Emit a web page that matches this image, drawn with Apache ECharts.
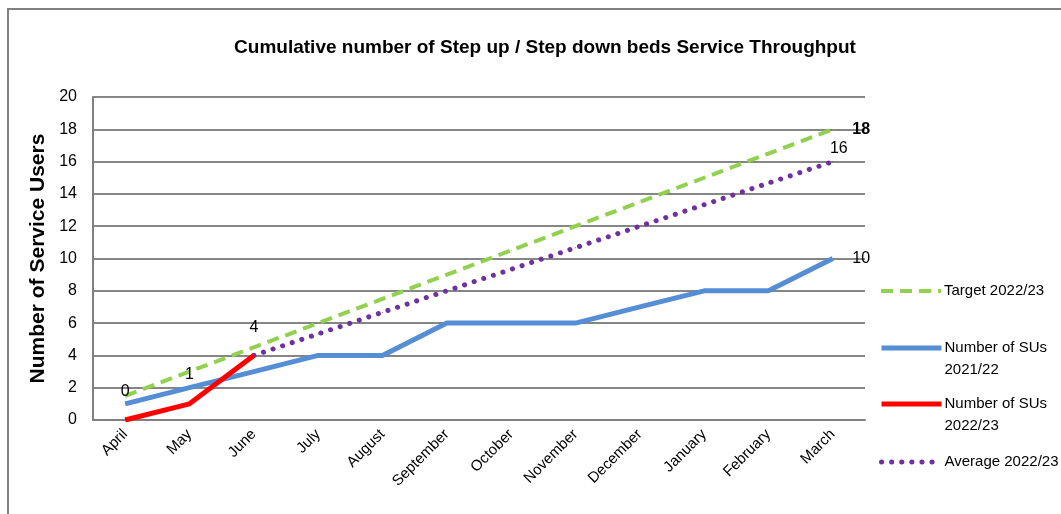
<!DOCTYPE html>
<html><head><meta charset="utf-8">
<script src="https://cdn.jsdelivr.net/npm/echarts@6/dist/echarts.min.js"></script>
<style>html,body{margin:0;padding:0;background:#fff}#c{width:1061px;height:514px}</style>
</head><body><div id="c"></div>
<script>
const categories = ['April','May','June','July','August','September','October','November','December','January','February','March'];
const target2223 = [1.5,3,4.5,6,7.5,9,10.5,12,13.5,15,16.5,18];
const sus2122 = [1,2,3,4,4,6,6,6,7,8,8,10];
const sus2223 = [0,1,4,null,null,null,null,null,null,null,null,null];
const avg2223 = [null,null,4,5.33,6.67,8,9.33,10.67,12,13.33,14.67,16];
const yTicks = [0,2,4,6,8,10,12,14,16,18,20];

const FONT = '"Liberation Sans",Arial,sans-serif';
const chart = echarts.init(document.getElementById('c'));
const lastIdx = categories.length - 1;

function legendFor(name, top, twoLine, lw) {
  return {
    left: 879, top: top, orient: 'vertical', padding: 0,
    data: [name],
    itemWidth: 60, itemHeight: 14, itemGap: 0,
    selectedMode: false,
    itemStyle: { opacity: 0 },
    lineStyle: { width: lw },
    formatter: n => twoLine ? '\n' + n.replace('Number of SUs ', 'Number of SUs\n') : n,
    textStyle: { fontFamily: FONT, fontSize: 15, color: '#000', lineHeight: 22, padding: [0, 0, 0, -2] }
  };
}

chart.setOption({
  animation: false,
  title: {
    text: 'Cumulative number of Step up / Step down beds Service Throughput',
    left: 540, top: 33, textAlign: 'center',
    textStyle: { fontFamily: FONT, fontSize: 19, fontWeight: 'bold', color: '#000' }
  },
  graphic: [{
    type: 'rect', shape: { x: 8, y: 9, width: 1100, height: 600 },
    style: { fill: 'none', stroke: '#808080', lineWidth: 2 }, silent: true
  }],
  legend: [
    legendFor('Target 2022/23', 280, false, 4),
    legendFor('Number of SUs 2021/22', 315, true, 5),
    legendFor('Number of SUs 2022/23', 371, true, 5),
    legendFor('Average 2022/23', 451, false, 5)
  ],
  grid: { left: 93, right: 196, top: 97, bottom: 94 },
  xAxis: {
    type: 'category', data: categories, boundaryGap: true,
    axisLine: { lineStyle: { color: '#808080', width: 2 } },
    axisTick: { show: false },
    axisLabel: { rotate: 45, interval: 0, fontFamily: FONT, fontSize: 15, color: '#000', margin: 12 }
  },
  yAxis: {
    type: 'value', min: 0, max: 20, interval: 2,
    name: 'Number of Service Users', nameLocation: 'middle', nameGap: 42,
    nameTextStyle: { fontFamily: FONT, fontSize: 21, fontWeight: 'bold', color: '#000' },
    axisLine: { show: true, lineStyle: { color: '#808080', width: 2 } },
    axisTick: { show: false },
    splitLine: { lineStyle: { color: '#868686', width: 2 } },
    axisLabel: { fontFamily: FONT, fontSize: 16, color: '#000', margin: 16,
      formatter: v => yTicks.includes(v) ? String(v) : '' }
  },
  series: [
    {
      name: 'Target 2022/23', type: 'line', data: target2223.map((v, i) => i === lastIdx ? {
        value: v, label: { show: true, position: 'right', offset: [14, 0], fontWeight: 'bold' } } : v),
      symbol: 'circle', symbolSize: 1, showSymbol: true, z: 3,
      lineStyle: { color: '#92D050', width: 4, type: [12, 7] },
      itemStyle: { color: '#92D050' },
      label: { show: false, fontFamily: FONT, fontSize: 16, color: '#000' }
    },
    {
      name: 'Number of SUs 2021/22', type: 'line', data: sus2122.map((v, i) => i === lastIdx ? {
        value: v, label: { show: true, position: 'right', offset: [14, 0] } } : v),
      symbol: 'circle', symbolSize: 1, showSymbol: true, z: 2,
      lineStyle: { color: '#558ED5', width: 5 },
      itemStyle: { color: '#558ED5' },
      label: { show: false, fontFamily: FONT, fontSize: 16, color: '#000' }
    },
    {
      name: 'Number of SUs 2022/23', type: 'line',
      data: sus2223.map((v, i) => {
        if (v === null) return v;
        const offs = [[0, -15], [0, -16], [0, -14]];
        return { value: v, label: { show: true, position: 'top', offset: offs[i] } };
      }),
      symbol: 'circle', symbolSize: 1, showSymbol: true, z: 4,
      lineStyle: { color: '#FF0000', width: 5 },
      itemStyle: { color: '#FF0000' },
      label: { show: false, fontFamily: FONT, fontSize: 16, color: '#000' }
    },
    {
      name: 'Average 2022/23', type: 'line', data: avg2223.map((v, i) => i === lastIdx ? {
        value: v, label: { show: true, position: 'top', offset: [6, 0] } } : v),
      symbol: 'circle', symbolSize: 1, showSymbol: true, z: 3,
      lineStyle: { color: '#7030A0', width: 5, type: [0.1, 10], cap: 'round' },
      itemStyle: { color: '#7030A0' },
      label: { show: false, fontFamily: FONT, fontSize: 16, color: '#000' }
    }
  ]
});
</script></body></html>
